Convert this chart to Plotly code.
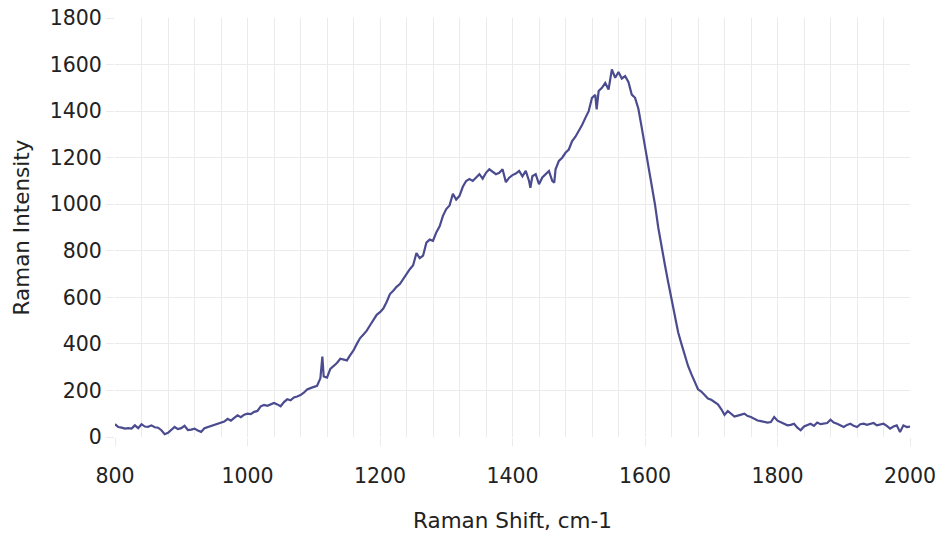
import plotly.graph_objects as go

raman_shift = [
    800, 805, 810, 815, 820, 825, 830, 835, 840, 845, 850, 855, 860, 865, 870, 875, 880, 885, 890, 895,
    900, 905, 910, 915, 920, 925, 930, 935, 940, 945, 950, 955, 960, 965, 970, 975, 980, 985, 990, 995,
    1000, 1005, 1010, 1015, 1020, 1025, 1030, 1035, 1040, 1045, 1050, 1055, 1060, 1065, 1070, 1075, 1080, 1085, 1090, 1095,
    1100, 1105, 1110, 1113, 1115, 1120, 1125, 1130, 1135, 1140, 1145, 1150, 1155, 1160, 1165, 1170, 1175, 1180, 1185, 1190, 1195,
    1200, 1205, 1210, 1215, 1220, 1225, 1230, 1235, 1240, 1245, 1250, 1255, 1260, 1265, 1270, 1275, 1280, 1285, 1290, 1295,
    1300, 1305, 1310, 1315, 1320, 1325, 1330, 1335, 1340, 1345, 1350, 1355, 1360, 1365, 1370, 1375, 1380, 1385, 1390, 1395,
    1400, 1405, 1410, 1415, 1420, 1425, 1427, 1430, 1435, 1440, 1445, 1450, 1455, 1460, 1463, 1465, 1470, 1475, 1480, 1485, 1490, 1495,
    1500, 1505, 1510, 1515, 1520, 1525, 1527, 1530, 1535, 1540, 1545, 1550, 1555, 1560, 1565, 1570, 1575, 1580, 1585, 1590, 1595,
    1600, 1605, 1610, 1615, 1620, 1625, 1630, 1635, 1640, 1645, 1650, 1655, 1660, 1665, 1670, 1675, 1680, 1685, 1690, 1695,
    1700, 1705, 1710, 1715, 1720, 1725, 1730, 1735, 1740, 1745, 1750, 1755, 1760, 1765, 1770, 1775, 1780, 1785, 1790, 1795,
    1800, 1805, 1810, 1815, 1820, 1825, 1830, 1835, 1840, 1845, 1850, 1855, 1860, 1865, 1870, 1875, 1880, 1885, 1890, 1895,
    1900, 1905, 1910, 1915, 1920, 1925, 1930, 1935, 1940, 1945, 1950, 1955, 1960, 1965, 1970, 1975, 1980, 1985, 1990, 1995,
    2000,
]

raman_intensity = [
    55, 43, 40, 36, 38, 36, 50, 38, 55, 45, 44, 50, 42, 40, 29, 12, 18, 30, 43, 34,
    38, 48, 30, 32, 36, 28, 22, 38, 43, 48, 52, 57, 60, 66, 78, 70, 82, 93, 85, 96,
    100, 98, 108, 112, 132, 138, 134, 140, 146, 140, 132, 150, 162, 158, 170, 174, 180, 190, 204, 210,
    214, 220, 252, 345, 260, 255, 293, 305, 318, 336, 332, 329, 352, 372, 400, 425, 440, 457, 480, 505, 525,
    536, 552, 580, 614, 628, 645, 657, 680, 700, 721, 738, 790, 768, 779, 835, 848, 843, 879, 905, 950,
    979, 995, 1045, 1020, 1036, 1075, 1100, 1108, 1100, 1115, 1129, 1110, 1135, 1150, 1140, 1129, 1135, 1150, 1095, 1114,
    1125, 1132, 1143, 1120, 1143, 1100, 1071, 1120, 1129, 1086, 1115, 1129, 1143, 1100, 1093, 1150, 1186, 1200, 1221, 1235, 1271, 1290,
    1314, 1340, 1371, 1400, 1457, 1470, 1407, 1486, 1500, 1521, 1493, 1579, 1543, 1568, 1540, 1550, 1525, 1471, 1457, 1410, 1330,
    1250, 1170, 1090, 1000, 900, 815, 740, 665, 590, 520, 450, 400, 350, 305, 270, 240, 205, 195, 179, 165,
    160, 150, 140, 120, 95, 112, 100, 88, 92, 95, 100, 90, 86, 78, 71, 68, 64, 62, 64, 86,
    70, 64, 55, 50, 52, 57, 40, 29, 45, 50, 57, 48, 62, 55, 57, 60, 74, 62, 57, 50,
    43, 52, 57, 48, 43, 55, 57, 52, 57, 60, 50, 54, 57, 48, 36, 45, 50, 21, 50, 43,
    45,
]

x_ticks = [800, 1000, 1200, 1400, 1600, 1800, 2000]
y_ticks = [0, 200, 400, 600, 800, 1000, 1200, 1400, 1600, 1800]

GRID = "#ebebeb"
FONT = "DejaVu Sans"
TXT = "#222222"

fig = go.Figure()
fig.add_trace(go.Scatter(
    x=raman_shift, y=raman_intensity, mode="lines",
    line=dict(color="#4b4b8f", width=2.2),
    showlegend=False, hoverinfo="skip",
))

fig.update_layout(
    width=939, height=538,
    margin=dict(l=115, r=29, t=18, b=101),
    paper_bgcolor="white", plot_bgcolor="white",
    font=dict(family=FONT, color=TXT, size=20),
    showlegend=False,
)

fig.update_xaxes(
    range=[800, 2000], tickvals=x_ticks, ticktext=[str(v) for v in x_ticks],
    showgrid=True, gridcolor=GRID, gridwidth=1, zeroline=False, showline=False,
    ticks="outside", ticklen=8, tickcolor=GRID, tickwidth=1,
    tickfont=dict(size=20.5, family=FONT, color=TXT),
    ticklabelstandoff=12,
    minor=dict(dtick=40, tick0=800, showgrid=True, gridcolor=GRID, gridwidth=1, ticks=""),
    title=dict(text="Raman Shift, cm-1", font=dict(size=21.5, family=FONT, color=TXT), standoff=26),
    automargin=False,
)
fig.update_yaxes(
    range=[0, 1800], tickvals=y_ticks, ticktext=[str(v) for v in y_ticks],
    showgrid=True, gridcolor=GRID, gridwidth=1, zeroline=False, showline=False,
    ticks="outside", ticklen=8, tickcolor=GRID, tickwidth=1,
    tickfont=dict(size=20.5, family=FONT, color=TXT),
    title=dict(text="Raman Intensity", font=dict(size=21.5, family=FONT, color=TXT), standoff=14),
    automargin=False,
)

fig.write_html("out.html")
